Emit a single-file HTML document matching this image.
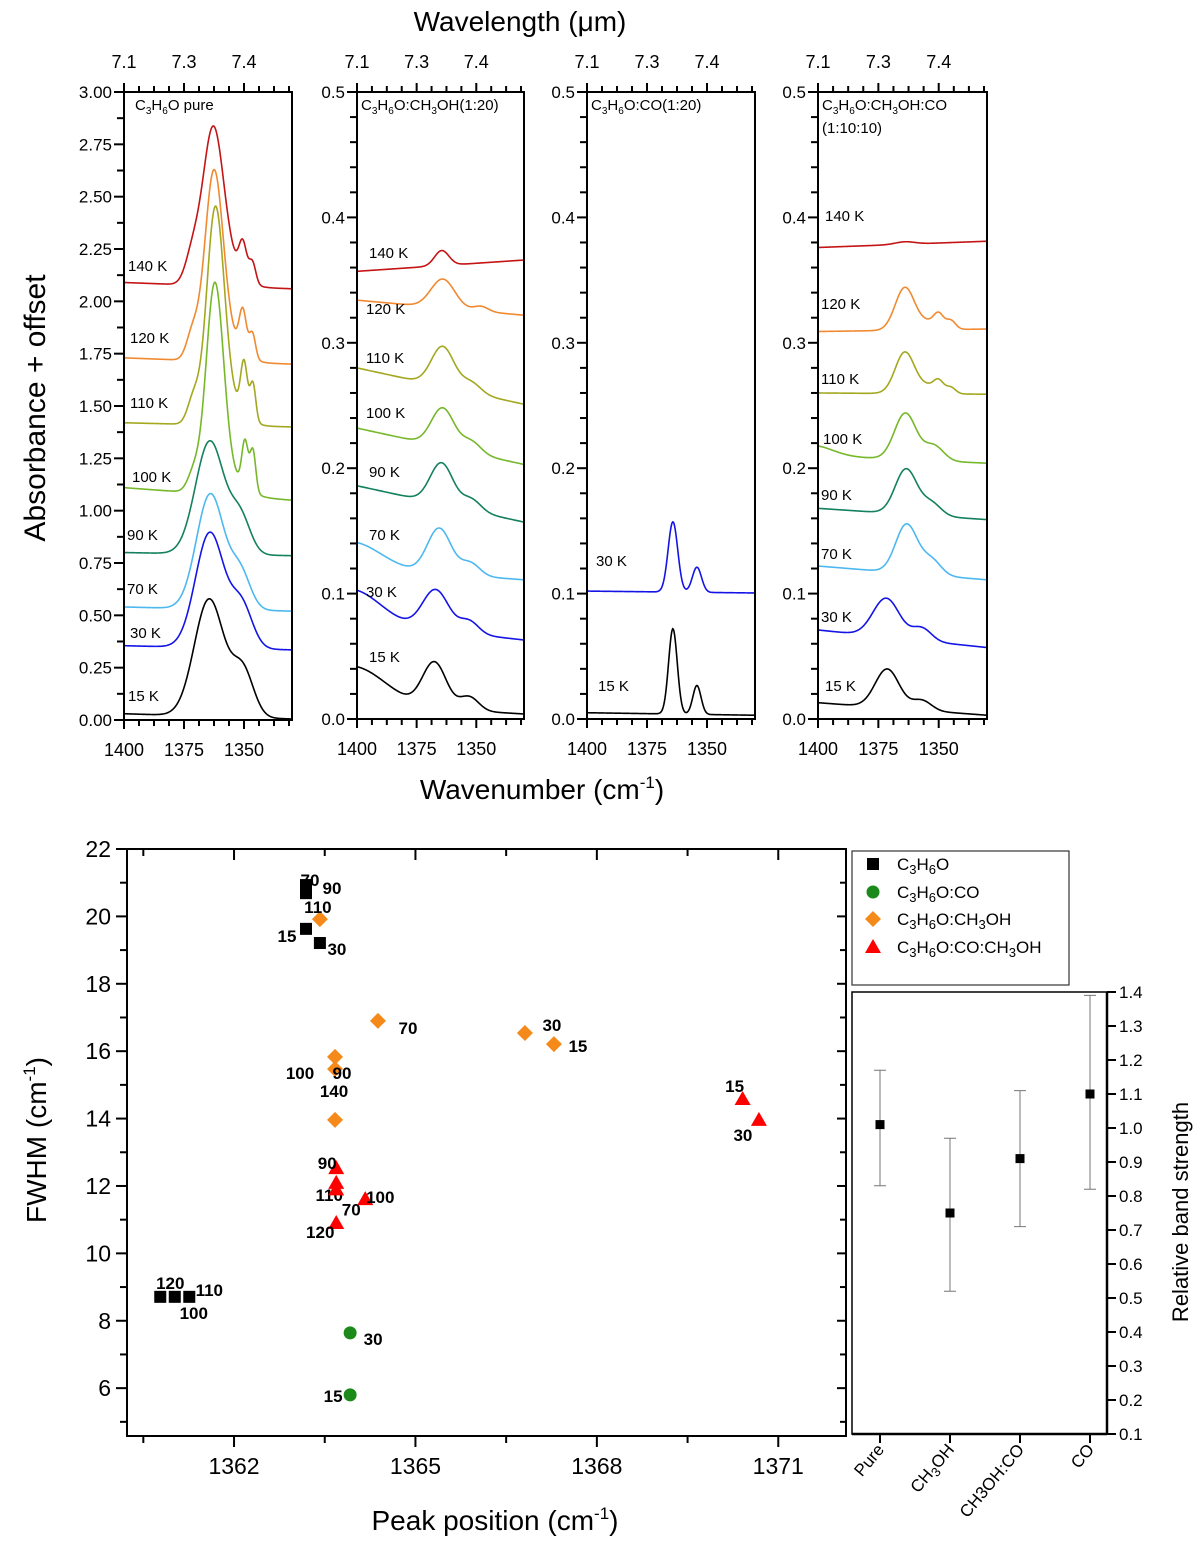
<!DOCTYPE html>
<html><head><meta charset="utf-8">
<style>
html,body{margin:0;padding:0;background:#fff;}
svg{display:block;font-family:"Liberation Sans",Arial,sans-serif;}
</style></head>
<body>
<svg id="fig" width="1200" height="1545" viewBox="0 0 1200 1545" xmlns="http://www.w3.org/2000/svg">
<rect x="0" y="0" width="1200" height="1545" fill="#fff"/>
<text x="520" y="31" font-size="28" text-anchor="middle">Wavelength (μm)</text>
<text transform="translate(45,408) rotate(-90)" font-size="30" text-anchor="middle">Absorbance + offset</text>
<text x="542" y="799" font-size="28" text-anchor="middle">Wavenumber (cm<tspan dy="-11" font-size="17">-1</tspan><tspan dy="11">)</tspan></text>
<text x="135" y="110" font-size="15">C<tspan dy="4" font-size="10">3</tspan><tspan dy="-4">H</tspan><tspan dy="4" font-size="10">6</tspan><tspan dy="-4">O pure</tspan></text>
<text x="361" y="110" font-size="15">C<tspan dy="4" font-size="10">3</tspan><tspan dy="-4">H</tspan><tspan dy="4" font-size="10">6</tspan><tspan dy="-4">O:CH</tspan><tspan dy="4" font-size="10">3</tspan><tspan dy="-4">OH(1:20)</tspan></text>
<text x="591" y="110" font-size="15">C<tspan dy="4" font-size="10">3</tspan><tspan dy="-4">H</tspan><tspan dy="4" font-size="10">6</tspan><tspan dy="-4">O:CO(1:20)</tspan></text>
<text x="822" y="110" font-size="15">C<tspan dy="4" font-size="10">3</tspan><tspan dy="-4">H</tspan><tspan dy="4" font-size="10">6</tspan><tspan dy="-4">O:CH</tspan><tspan dy="4" font-size="10">3</tspan><tspan dy="-4">OH:CO</tspan></text>
<text x="822" y="133" font-size="15">(1:10:10)</text>
<text transform="translate(46,1140) rotate(-90)" font-size="28" text-anchor="middle">FWHM (cm<tspan dy="-11" font-size="17">-1</tspan><tspan dy="11">)</tspan></text>
<text x="495" y="1530" font-size="28" text-anchor="middle">Peak position (cm<tspan dy="-11" font-size="17">-1</tspan><tspan dy="11">)</tspan></text>
<text transform="translate(1188,1212) rotate(-90)" font-size="22" text-anchor="middle">Relative band strength</text>
<g id="legend">
<rect x="852" y="851" width="217" height="134" fill="#fff" stroke="#333" stroke-width="1.2"/>
</g>
</svg>
<script>
// ---------- SPECTRA DATA ----------
const temps1 = ["15 K","30 K","70 K","90 K","100 K","110 K","120 K","140 K"];
const colors8 = ["#000000","#1414e6","#4db8f0","#13805f","#76b82a","#a3a81f","#f08a30","#c41414"];
// baselines [left(1400), right(1330)]
const p1Base = [[0.03,0.005],[0.355,0.335],[0.54,0.52],[0.80,0.785],[1.11,1.05],[1.42,1.40],[1.73,1.70],[2.09,2.06]];
// peaks [center, height, sigma]
const p1Peaks = [
 [[1364.5,0.56,6.2],[1350.5,0.22,4.5]],
 [[1364.2,0.55,6],[1351,0.2,4.5]],
 [[1364,0.55,5.8],[1351.5,0.17,4.2]],
 [[1364.2,0.54,6],[1351.5,0.17,4.2]],
 [[1362.2,0.93,3.6],[1371,0.08,2.5],[1349.6,0.22,1.3],[1346.3,0.2,1.2],[1358,0.1,7]],
 [[1362,0.96,3.6],[1371,0.12,2.5],[1350,0.25,1.4],[1346.3,0.18,1.2],[1357,0.12,6]],
 [[1362.6,0.85,3.8],[1371.5,0.12,2.5],[1350.5,0.2,1.5],[1346.5,0.12,1.3],[1357,0.1,6]],
 [[1363,0.7,4.3],[1371.5,0.13,3],[1350.5,0.16,1.6],[1346.5,0.1,1.4],[1357,0.1,6]]
];
const p2Base = [[0.012,0.004],[0.078,0.063],[0.121,0.111],[0.186,0.157],[0.232,0.203],[0.28,0.251],[0.334,0.322],[0.357,0.366]];
const p2Peaks = [
 [[1402,0.03,14],[1367.5,0.036,5],[1353,0.011,4]],
 [[1402,0.025,12],[1367,0.032,5.5],[1353,0.01,4]],
 [[1402,0.02,12],[1365.5,0.036,5],[1352.5,0.01,4]],
 [[1364.5,0.033,4.8],[1352,0.009,4]],
 [[1364,0.031,4.8],[1352,0.009,4]],
 [[1364,0.032,4.8],[1352,0.008,4]],
 [[1364,0.023,5],[1348,0.004,3]],
 [[1364.5,0.012,3]]
];
const temps3 = ["15 K","30 K"];
const colors3 = ["#000000","#1414e6"];
const p3Base = [[0.005,0.003],[0.102,0.1005]];
const p3Peaks = [
 [[1364.2,0.068,1.8],[1354.2,0.023,1.7]],
 [[1364.2,0.056,2.0],[1354.2,0.02,1.9]]
];
const p4Base = [[0.013,0.003],[0.071,0.057],[0.122,0.111],[0.168,0.159],[0.21,0.204],[0.26,0.259],[0.309,0.311],[0.376,0.381]];
const p4Peaks = [
 [[1371.3,0.031,5],[1357,0.008,4]],
 [[1371.7,0.031,5.5],[1357,0.01,4]],
 [[1363.3,0.039,4.5],[1353,0.012,4]],
 [[1363.5,0.036,4.5],[1353,0.01,4]],
 [[1402,0.008,8],[1363.8,0.037,4.5],[1352,0.012,4]],
 [[1364,0.033,4],[1354,0.006,4],[1350,0.008,2],[1345,0.005,2]],
 [[1364,0.034,4],[1354,0.006,4],[1350,0.01,2],[1345,0.007,2]],
 [[1364,0.002,4]]
];
const p1YTicks = ["0.00","0.25","0.50","0.75","1.00","1.25","1.50","1.75","2.00","2.25","2.50","2.75","3.00"];
const pYTicks = ["0.0","0.1","0.2","0.3","0.4","0.5"];
const wnTickLabels = ["1400","1375","1350"];
const wlTickLabels = ["7.1","7.3","7.4"];

// ---------- SCATTER DATA ----------
const sqX = [1363.19,1363.42,1363.19,1363.19,1361.02,1361.26,1360.78];
const sqY = [19.63,19.21,20.93,20.69,8.71,8.71,8.71];
const sqLab = ["15","30","70","90","100","110","120"];
const ciX = [1363.92,1363.92];
const ciY = [5.8,7.64];
const ciLab = ["15","30"];
const diX = [1367.29,1366.81,1364.38,1363.67,1363.67,1363.42,1363.67];
const diY = [16.21,16.54,16.9,15.47,15.83,19.92,13.96];
const diLab = ["15","30","70","90","100","110","140"];
const trX = [1370.41,1370.68,1363.69,1363.69,1363.69,1364.17,1363.69];
const trY = [14.58,13.96,12.53,12.09,11.9,11.61,10.9];
const trLab = ["15","30","90","110","70","100","120"];
const fwhmTicks = [6,8,10,12,14,16,18,20,22];
const posTicks = [1362,1365,1368,1371];

// ---------- BAND STRENGTH DATA ----------
const bsCats = ["Pure","CH3OH","CH3OH:CO","CO"];
const bsVal = [1.01,0.75,0.91,1.10];
const bsHi = [1.17,0.97,1.11,1.39];
const bsLo = [0.83,0.52,0.71,0.82];
const bsTicks = ["0.1","0.2","0.3","0.4","0.5","0.6","0.7","0.8","0.9","1.0","1.1","1.2","1.3","1.4"];

const NS = "http://www.w3.org/2000/svg";
const svg = document.getElementById('fig');
function mk(tag, attrs, parent){ const e=document.createElementNS(NS,tag); for(const k in attrs) e.setAttribute(k,attrs[k]); (parent||svg).appendChild(e); return e; }

// ---------- spectra panels ----------
const panels = [
 {x0:124,x1:292,y0:92,y1:720,ymax:3.0,base:p1Base,peaks:p1Peaks,temps:temps1,colors:colors8,yt:p1YTicks,ystep:0.25,minor:0.125,
  labs:[[128,701],[130,638],[127,594],[127,540],[132,482],[130,408],[130,343],[128,271]]},
 {x0:357,x1:524,y0:92,y1:719,ymax:0.5,base:p2Base,peaks:p2Peaks,temps:temps1,colors:colors8,yt:pYTicks,ystep:0.1,minor:0.02,
  labs:[[369,662],[366,597],[369,540],[369,477],[366,418],[366,363],[366,314],[369,258]]},
 {x0:587,x1:755,y0:92,y1:719,ymax:0.5,base:p3Base,peaks:p3Peaks,temps:temps3,colors:colors3,yt:pYTicks,ystep:0.1,minor:0.02,
  labs:[[598,691],[596,566]]},
 {x0:818,x1:987,y0:92,y1:719,ymax:0.5,base:p4Base,peaks:p4Peaks,temps:temps1,colors:colors8,yt:pYTicks,ystep:0.1,minor:0.02,
  labs:[[825,691],[821,622],[821,559],[821,500],[823,444],[821,384],[821,309],[825,221]]}
];
panels.forEach((P,pi)=>{
  const g = mk('g',{});
  
  
  const sx = (P.x1-P.x0)/70;
  const X = wn => P.x0 + (1400-wn)*sx;
  const Y = a => P.y1 - a*(P.y1-P.y0)/P.ymax;
  // curves
  P.base.forEach((b,ci)=>{
    let d='';
    for(let wn=1400; wn>=1330-1e-9; wn-=0.25){
      let a = b[0] + (b[1]-b[0])*(1400-wn)/70;
      P.peaks[ci].forEach(pk=>{ a += pk[1]*Math.exp(-((wn-pk[0])**2)/(2*pk[2]*pk[2])); });
      d += (d?'L':'M') + X(wn).toFixed(2)+','+Y(a).toFixed(2);
    }
    const p = mk('path',{d:d,fill:'none',stroke:P.colors[ci],'stroke-width':1.6},g);
    
    
    const t = mk('text',{x:P.labs[ci][0],y:P.labs[ci][1],'font-size':15},g);
    
    
    t.textContent = P.temps[ci];
  });
  // frame
  const fr = mk('rect',{x:P.x0,y:P.y0,width:P.x1-P.x0,height:P.y1-P.y0,fill:'none',stroke:'#000','stroke-width':2},g);
  
  
  // x ticks bottom/top
  for(let k=0;k<=11;k++){
    const wn = 1400 - k*6.25; const x = X(wn);
    const maj = (k%4===0);
    const L = maj?9:6;
    mk('line',{x1:x,y1:P.y1,x2:x,y2:P.y1+L,stroke:'#000','stroke-width':2},g);
    mk('line',{x1:x,y1:P.y0,x2:x,y2:P.y0-L,stroke:'#000','stroke-width':2},g);
    if(maj){
      const t1 = mk('text',{x:x,y:P.y1+36,'font-size':18,'text-anchor':'middle'},g);
      
      
      t1.textContent = wnTickLabels[k/4];
      const t2 = mk('text',{x:x,y:P.y0-24,'font-size':18,'text-anchor':'middle'},g);
      
      
      t2.textContent = wlTickLabels[k/4];
    }
  }
  // y ticks
  const nMinor = Math.round(P.ymax/P.minor);
  for(let k=0;k<=nMinor;k++){
    const v = k*P.minor; const y = Y(v);
    const isMaj = Math.abs(v/P.ystep - Math.round(v/P.ystep))<1e-6;
    mk('line',{x1:P.x0,y1:y,x2:P.x0-(isMaj?10:7),y2:y,stroke:'#000','stroke-width':2},g);
  }
  P.yt.forEach((lab,i)=>{
    const t = mk('text',{x:P.x0-12,y:Y(i*P.ystep)+6,'font-size':17,'text-anchor':'end'},g);
    
    
    t.textContent = lab;
  });
});

// ---------- scatter plot ----------
const S = {x0:127,x1:846,y0:849,y1:1436,xmin:1360.23,xmax:1372.12,ymin:4.58,ymax:22};
const SX = v => S.x0 + (v-S.xmin)*(S.x1-S.x0)/(S.xmax-S.xmin);
const SY = v => S.y1 - (v-S.ymin)*(S.y1-S.y0)/(S.ymax-S.ymin);
const sg = mk('g',{});


const sfr = mk('rect',{x:S.x0,y:S.y0,width:S.x1-S.x0,height:S.y1-S.y0,fill:'none',stroke:'#000','stroke-width':2},sg);


for(let v=5; v<=22; v++){
  const y=SY(v); const maj=(v%2===0);
  mk('line',{x1:S.x0,y1:y,x2:S.x0-(maj?11:7),y2:y,stroke:'#000','stroke-width':2},sg);
  mk('line',{x1:S.x1,y1:y,x2:S.x1-(maj?9:6),y2:y,stroke:'#000','stroke-width':2},sg);
}
fwhmTicks.forEach(v=>{
  const t = mk('text',{x:S.x0-16,y:SY(v)+8,'font-size':23,'text-anchor':'end'},sg);
  
  
  t.textContent = v;
});
for(let v=1360.5; v<=1372; v+=1.5){
  const x=SX(v); const maj = Math.abs((v-1362)/3 - Math.round((v-1362)/3))<1e-6;
  mk('line',{x1:x,y1:S.y1,x2:x,y2:S.y1+(maj?11:7),stroke:'#000','stroke-width':2},sg);
  mk('line',{x1:x,y1:S.y0,x2:x,y2:S.y0+(maj?11:7),stroke:'#000','stroke-width':2},sg);
}
posTicks.forEach(v=>{
  const t = mk('text',{x:SX(v),y:S.y1+38,'font-size':23,'text-anchor':'middle'},sg);
  
  
  t.textContent = v;
});
function ptLabel(x,y,txt){
  const t = mk('text',{x:x,y:y+6,'font-size':17,'font-weight':'bold','text-anchor':'middle'},sg);
  
  
  t.textContent = txt;
}
const sqOff = [[-19,7],[17,6],[4,-5],[26,-5],[19,16],[20,-7],[10,-14]];
sqX.forEach((v,i)=>{
  const x=SX(v), y=SY(sqY[i]);
  const r = mk('rect',{x:x-6,y:y-6,width:12,height:12,fill:'#000'},sg);
  
  
  ptLabel(x+sqOff[i][0],y+sqOff[i][1],sqLab[i]);
});
const ciOff = [[-17,1],[23,6]];
ciX.forEach((v,i)=>{
  const x=SX(v), y=SY(ciY[i]);
  const c = mk('circle',{cx:x,cy:y,r:6.5,fill:'#1b8a1b'},sg);
  
  
  ptLabel(x+ciOff[i][0],y+ciOff[i][1],ciLab[i]);
});
const diOff = [[24,2],[27,-8],[30,7],[7,4],[-35,16],[-2,-12],[-1,-29]];
diX.forEach((v,i)=>{
  const x=SX(v), y=SY(diY[i]);
  const p = mk('path',{d:`M${x},${y-8}L${x+8},${y}L${x},${y+8}L${x-8},${y}Z`,fill:'#f58a1a'},sg);
  
  
  ptLabel(x+diOff[i][0],y+diOff[i][1],diLab[i]);
});
const trOff = [[-8,-13],[-16,15],[-9,-5],[-7,12],[15,20],[15,-2],[-16,9]];
trX.forEach((v,i)=>{
  const x=SX(v), y=SY(trY[i]);
  const p = mk('path',{d:`M${x},${y-8}L${x+8},${y+6}L${x-8},${y+6}Z`,fill:'#ff0000'},sg);
  
  
  ptLabel(x+trOff[i][0],y+trOff[i][1],trLab[i]);
});

// ---------- legend ----------
const lg = document.getElementById('legend');
const legY = [864,892,919,947];
function sub(t,parts){ parts.forEach(p=>{ const s=document.createElementNS(NS,'tspan'); if(p[1]) {s.setAttribute('font-size','13'); s.setAttribute('dy','4');} else {s.setAttribute('dy', p[2]||'0');} s.textContent=p[0]; t.appendChild(s); }); }
const legParts = [
 [["C"],["3",1],["H",0,"-4"],["6",1],["O",0,"-4"]],
 [["C"],["3",1],["H",0,"-4"],["6",1],["O:CO",0,"-4"]],
 [["C"],["3",1],["H",0,"-4"],["6",1],["O:CH",0,"-4"],["3",1],["OH",0,"-4"]],
 [["C"],["3",1],["H",0,"-4"],["6",1],["O:CO:CH",0,"-4"],["3",1],["OH",0,"-4"]]
];
mk('rect',{x:867,y:legY[0]-6,width:12,height:12,fill:'#000'},lg);
mk('circle',{cx:873,cy:legY[1],r:6.5,fill:'#1b8a1b'},lg);
mk('path',{d:`M873,${legY[2]-8}L881,${legY[2]}L873,${legY[2]+8}L865,${legY[2]}Z`,fill:'#f58a1a'},lg);
mk('path',{d:`M873,${legY[3]-8}L881,${legY[3]+6}L865,${legY[3]+6}Z`,fill:'#ff0000'},lg);
legParts.forEach((parts,i)=>{
  const t = mk('text',{x:897,y:legY[i]+6,'font-size':17},lg);
  
  
  sub(t,parts);
});

// ---------- band strength panel ----------
const B = {x0:852,x1:1107,y0:992,y1:1434,ymin:0.1,ymax:1.4};
const BY = v => B.y1 - (v-B.ymin)*(B.y1-B.y0)/(B.ymax-B.ymin);
const BX = i => 880 + i*70;
const bg = mk('g',{});


const bfr = mk('rect',{x:B.x0,y:B.y0,width:B.x1-B.x0,height:B.y1-B.y0,fill:'none',stroke:'#000','stroke-width':1.5},bg);


mk('line',{x1:B.x1,y1:B.y0,x2:B.x1,y2:B.y1,stroke:'#000','stroke-width':2.5},bg);
mk('line',{x1:B.x0,y1:B.y1,x2:B.x1,y2:B.y1,stroke:'#000','stroke-width':2.5},bg);
bsTicks.forEach((lab,i)=>{
  const v = 0.1+i*0.1; const y=BY(v);
  mk('line',{x1:B.x1,y1:y,x2:B.x1+9,y2:y,stroke:'#000','stroke-width':2},bg);
  const t = mk('text',{x:B.x1+12,y:y+6,'font-size':17},bg);
  
  
  t.textContent = lab;
});
const catParts = [[["Pure"]],[["CH"],["3",1],["OH",0,"-4"]],[["CH3OH:CO"]],[["CO"]]];
bsCats.forEach((c,i)=>{
  const x = BX(i);
  mk('line',{x1:x,y1:B.y1,x2:x,y2:B.y1+9,stroke:'#000','stroke-width':2},bg);
  const t = mk('text',{x:0,y:0,'font-size':17,'text-anchor':'end',transform:`translate(${x+5},${B.y1+16}) rotate(-50)`},bg);
  
  
  if(i===1) sub(t,catParts[1]); else t.textContent = c;
  const e = mk('path',{d:`M${x},${BY(bsHi[i])}V${BY(bsLo[i])}M${x-6},${BY(bsHi[i])}H${x+6}M${x-6},${BY(bsLo[i])}H${x+6}`,stroke:'#777','stroke-width':1,fill:'none'},bg);
  
  
  const r = mk('rect',{x:x-4.5,y:BY(bsVal[i])-4.5,width:9,height:9,fill:'#000'},bg);
  
  
});
</script>
</body></html>
